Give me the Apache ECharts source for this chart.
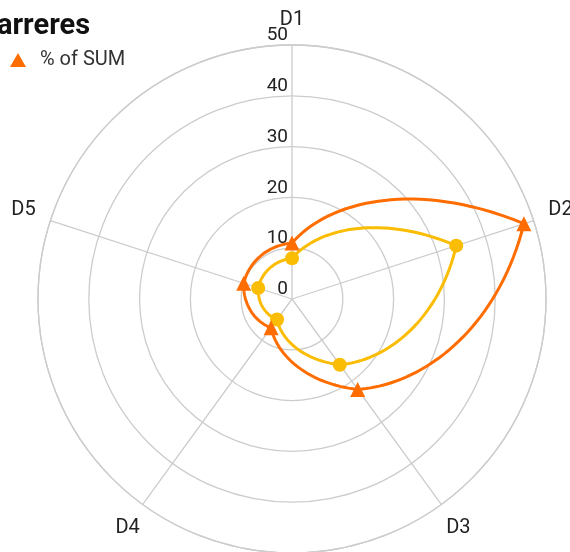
<!DOCTYPE html>
<html>
<head>
<meta charset="utf-8">
<script src="https://cdn.jsdelivr.net/npm/echarts@6/dist/echarts.min.js"></script>
<style>
  html, body { margin: 0; padding: 0; background: #fff; }
  #chart { width: 570px; height: 552px; }
</style>
</head>
<body>
<div id="chart"></div>
<script>
const dims = ['D1', 'D2', 'D3', 'D4', 'D5'];
const radiusTicks = [0, 10, 20, 30, 40, 50];
const pctOfSum = [11, 48, 22, 7, 10];
const sumValues = [8, 34, 16, 5, 7];

const ORANGE = '#ff6d01';
const YELLOW = '#fbbc04';
const GRID = '#cccccc';

// closed curve through the points, radius eased geometrically between two angles
function loopRenderer(color) {
  return function (params, api) {
    if (params.dataIndexInside !== 0) return null;
    const n = params.dataInsideLength;
    const pts = [];
    const steps = 40;
    for (let i = 0; i < n; i++) {
      const j = (i + 1) % n;
      const r1 = api.value(0, i), a1 = api.value(1, i);
      const r2 = api.value(0, j), a2 = j === 0 ? n : api.value(1, j);
      for (let s = 0; s < steps; s++) {
        const t = s / steps;
        pts.push(api.coord([r1 * Math.pow(r2 / r1, t), a1 + (a2 - a1) * t]));
      }
    }
    pts.push(pts[0]);
    return {
      type: 'polyline',
      shape: { points: pts },
      style: { stroke: color, lineWidth: 3, fill: null }
    };
  };
}

const lbl = (lineHeight, padding) =>
  ({ fontFamily: 'Roboto', fontSize: 20, color: '#222', lineHeight, padding });

const chart = echarts.init(document.getElementById('chart'), null, { renderer: 'canvas' });

chart.setOption({
  animation: false,
  title: {
    text: 'Carreres',
    left: -27,
    top: 7,
    textStyle: { fontFamily: 'Roboto', fontSize: 29, fontWeight: 'bold', color: '#111' }
  },
  legend: {
    data: [{ name: '% of SUM', icon: 'triangle', itemStyle: { color: ORANGE } }],
    left: 5,
    top: 45,
    itemWidth: 16,
    itemHeight: 14,
    textStyle: { fontFamily: 'Roboto', fontSize: 20, color: '#333', padding: [0, 0, 0, 9] }
  },
  polar: { center: [292, 299], radius: 254 },
  angleAxis: {
    type: 'value',
    min: 0,
    max: dims.length,
    interval: 1,
    startAngle: 90,
    clockwise: true,
    axisLine: { lineStyle: { color: GRID, width: 1.3 } },
    axisTick: { show: false },
    splitLine: { lineStyle: { color: GRID, width: 1.3 } },
    axisLabel: {
      margin: 5,
      fontFamily: 'Roboto',
      fontSize: 20,
      color: '#222',
      formatter: v => (dims[v] ? '{d' + v + '|' + dims[v] + '}' : ''),
      rich: {
        d0: lbl(40, 0),
        d1: lbl(18, [0, 0, 0, 10]),
        d2: lbl(38, [0, 0, 0, 2]),
        d3: lbl(38, 0),
        d4: lbl(18, [0, 10, 0, 0])
      }
    }
  },
  radiusAxis: {
    type: 'value',
    min: radiusTicks[0],
    max: radiusTicks[radiusTicks.length - 1],
    interval: 10,
    axisLine: { show: false },
    axisTick: { show: false },
    splitLine: { lineStyle: { color: GRID, width: 1.3 } },
    axisLabel: {
      margin: 4,
      verticalAlign: 'bottom',
      fontFamily: 'Roboto',
      fontSize: 19,
      color: '#222'
    }
  },
  series: [
    {
      name: 'SUM',
      type: 'custom',
      coordinateSystem: 'polar',
      data: sumValues.map((v, i) => [v, i]),
      renderItem: loopRenderer(YELLOW),
      z: 2
    },
    {
      name: 'SUM',
      type: 'scatter',
      coordinateSystem: 'polar',
      data: sumValues.map((v, i) => [v, i]),
      symbol: 'circle',
      symbolSize: 14,
      itemStyle: { color: YELLOW, opacity: 1 },
      z: 4
    },
    {
      name: '% of SUM',
      type: 'custom',
      coordinateSystem: 'polar',
      data: pctOfSum.map((v, i) => [v, i]),
      renderItem: loopRenderer(ORANGE),
      z: 3
    },
    {
      name: '% of SUM',
      type: 'scatter',
      coordinateSystem: 'polar',
      data: pctOfSum.map((v, i) => [v, i]),
      symbol: 'triangle',
      symbolSize: 15,
      itemStyle: { color: ORANGE, opacity: 1 },
      z: 5
    }
  ]
});
</script>
</body>
</html>
